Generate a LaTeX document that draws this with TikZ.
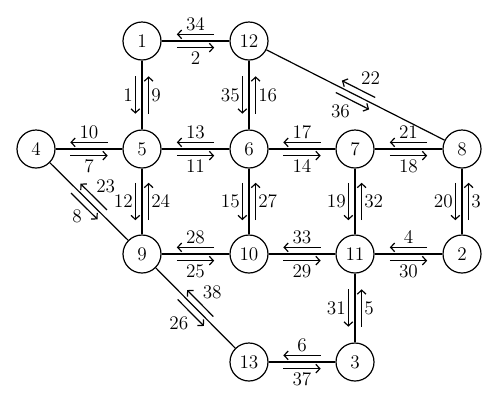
\documentclass[tikz,border=0pt]{standalone}
\usepackage{amsmath, amssymb}
\usetikzlibrary{calc, arrows.meta}

\newcommand{\flowpair}[4]{%
  \draw[flow] ($(#1)!0.5!(#2)!14pt!(#1)!5pt!90:(#1)$) -- ($(#1)!0.5!(#2)!14pt!(#2)!5pt!-90:(#2)$)
    node[flowlabel] {$#3$};
  \draw[flow] ($(#1)!0.5!(#2)!14pt!(#2)!5pt!90:(#2)$) -- ($(#1)!0.5!(#2)!14pt!(#1)!5pt!-90:(#1)$)
    node[flowlabel] {$#4$};
}

\begin{document}
\begin{tikzpicture}[x=0.75pt,y=-0.75pt,
    station/.style={circle, draw, line width=0.9pt, minimum size=28.5pt, inner sep=0pt,
      font=\fontsize{13.5}{16}\selectfont},
    flow/.style={line width=0.9pt, -{Straight Barb[length=3pt,width=6.5pt]}},
    flowlabel/.style={midway, auto, swap, inner xsep=1.5pt, inner ysep=2.8pt,
      font=\fontsize{13.5}{16}\selectfont}]
    \useasboundingbox (0,0) rectangle (500,408);

    \node[station] at (142,41)   (1)  {$1$};
    \node[station] at (249,41)   (12) {$12$};
    \node[station] at (36,149)   (4)  {$4$};
    \node[station] at (142,149)  (5)  {$5$};
    \node[station] at (249,149)  (6)  {$6$};
    \node[station] at (355,149)  (7)  {$7$};
    \node[station] at (462,149)  (8)  {$8$};
    \node[station] at (142,254)  (9)  {$9$};
    \node[station] at (249,254)  (10) {$10$};
    \node[station] at (355,254)  (11) {$11$};
    \node[station] at (462,254)  (2)  {$2$};
    \node[station] at (249,362)  (13) {$13$};
    \node[station] at (355,362)  (3)  {$3$};

    \draw[line width=0.9pt] (1) -- (12);
    \draw[line width=0.9pt] (1) -- (5);
    \draw[line width=0.9pt] (12) -- (6);
    \draw[line width=0.9pt] (12) -- (8);
    \draw[line width=0.9pt] (4) -- (5);
    \draw[line width=0.9pt] (5) -- (6);
    \draw[line width=0.9pt] (6) -- (7);
    \draw[line width=0.9pt] (7) -- (8);
    \draw[line width=0.9pt] (4) -- (9);
    \draw[line width=0.9pt] (5) -- (9);
    \draw[line width=0.9pt] (6) -- (10);
    \draw[line width=0.9pt] (7) -- (11);
    \draw[line width=0.9pt] (8) -- (2);
    \draw[line width=0.9pt] (9) -- (10);
    \draw[line width=0.9pt] (10) -- (11);
    \draw[line width=0.9pt] (11) -- (2);
    \draw[line width=0.9pt] (9) -- (13);
    \draw[line width=0.9pt] (11) -- (3);
    \draw[line width=0.9pt] (13) -- (3);

    \flowpair{1}{12}{2}{34}
    \flowpair{1}{5}{1}{9}
    \flowpair{12}{6}{35}{16}
    \flowpair{12}{8}{36}{22}
    \flowpair{4}{5}{7}{10}
    \flowpair{5}{6}{11}{13}
    \flowpair{6}{7}{14}{17}
    \flowpair{7}{8}{18}{21}
    \flowpair{4}{9}{8}{23}
    \flowpair{5}{9}{12}{24}
    \flowpair{6}{10}{15}{27}
    \flowpair{7}{11}{19}{32}
    \flowpair{8}{2}{20}{3}
    \flowpair{9}{10}{25}{28}
    \flowpair{10}{11}{29}{33}
    \flowpair{11}{2}{30}{4}
    \flowpair{9}{13}{26}{38}
    \flowpair{11}{3}{31}{5}
    \flowpair{13}{3}{37}{6}
\end{tikzpicture}
\end{document}
